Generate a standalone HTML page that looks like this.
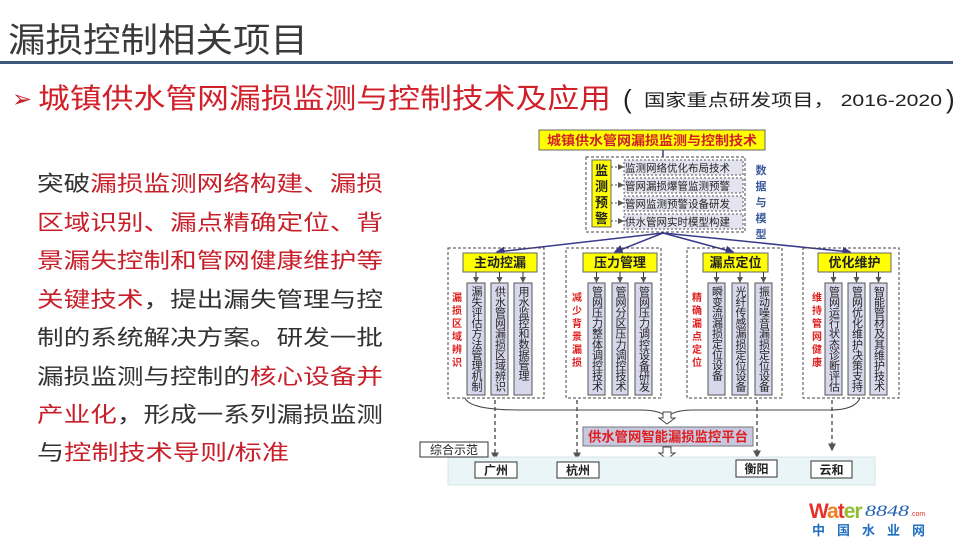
<!DOCTYPE html>
<html><head><meta charset="utf-8"><style>
html,body{margin:0;padding:0;background:#fff;}
svg{display:block;font-family:"Liberation Sans","Noto Sans CJK SC",sans-serif;}
</style></head><body>
<svg width="960" height="540" viewBox="0 0 960 540" xmlns="http://www.w3.org/2000/svg">
<defs>
<marker id="ar" markerWidth="6" markerHeight="6" refX="5" refY="3" orient="auto"><path d="M0,0L6,3L0,6z" fill="#3a3a8a"/></marker>
<marker id="ag" markerWidth="6" markerHeight="6" refX="5" refY="3" orient="auto"><path d="M0,0L6,3L0,6z" fill="#555"/></marker>
</defs>
<!-- title -->
<text x="8" y="52" font-size="34" fill="#3a3a3a" textLength="300" lengthAdjust="spacingAndGlyphs">漏损控制相关项目</text>
<rect x="0" y="61" width="953" height="3" fill="#3d5878"/>
<text x="12" y="107" font-size="24" fill="#c8202a">➢</text>
<text x="38" y="108" font-size="28" fill="#d0202a" textLength="573" lengthAdjust="spacingAndGlyphs">城镇供水管网漏损监测与控制技术及应用</text>
<text x="623" y="108" font-size="26" fill="#222">(</text>
<text x="644" y="106" font-size="17" fill="#222" textLength="298" lengthAdjust="spacingAndGlyphs">国家重点研发项目， 2016-2020</text>
<text x="946" y="108" font-size="26" fill="#222">)</text>
<!-- body text -->
<g font-size="21.6" lengthAdjust="spacingAndGlyphs">
<text x="37" y="191" fill="#333" textLength="346" lengthAdjust="spacingAndGlyphs">突破<tspan fill="#c8202a">漏损监测网络构建、漏损</tspan></text>
<text x="37" y="230" fill="#c8202a" textLength="346" lengthAdjust="spacingAndGlyphs">区域识别、漏点精确定位、背</text>
<text x="37" y="268" fill="#c8202a" textLength="346" lengthAdjust="spacingAndGlyphs">景漏失控制和管网健康维护等</text>
<text x="37" y="307" fill="#c8202a" textLength="346" lengthAdjust="spacingAndGlyphs">关键技术<tspan fill="#333">，提出漏失管理与控</tspan></text>
<text x="37" y="345" fill="#333" textLength="346" lengthAdjust="spacingAndGlyphs">制的系统解决方案。研发一批</text>
<text x="37" y="384" fill="#333" textLength="346" lengthAdjust="spacingAndGlyphs">漏损监测与控制的<tspan fill="#c8202a">核心设备并</tspan></text>
<text x="37" y="422" fill="#c8202a" textLength="346" lengthAdjust="spacingAndGlyphs">产业化<tspan fill="#333">，形成一系列漏损监测</tspan></text>
<text x="37" y="460" fill="#333" textLength="252" lengthAdjust="spacingAndGlyphs">与<tspan fill="#c8202a">控制技术导则/标准</tspan></text>
</g>
<!-- diagram top -->
<rect x="539" y="130" width="226" height="20" fill="#ffff00" stroke="#666" stroke-width="1"/>
<text x="652" y="145" font-size="13" fill="#d0202a" text-anchor="middle" font-weight="bold" textLength="210" lengthAdjust="spacingAndGlyphs">城镇供水管网漏损监测与控制技术</text>
<line x1="663" y1="150" x2="663" y2="157" stroke="#3a3a8a" stroke-width="1.5"/>
<rect x="586" y="157" width="159" height="75" fill="none" stroke="#444" stroke-dasharray="3,2"/>
<rect x="592" y="160" width="19" height="67" fill="#ffff00" stroke="#666"/>
<g font-size="13" font-weight="bold" fill="#222" text-anchor="middle">
<text x="601.5" y="175">监</text><text x="601.5" y="191">测</text><text x="601.5" y="207">预</text><text x="601.5" y="223">警</text>
</g>
<g font-size="10.5" fill="#222">
<rect x="624" y="160" width="119" height="15" fill="#e4e4f0" stroke="#555" stroke-dasharray="2,2"/><text x="625" y="171.5" textLength="105" lengthAdjust="spacingAndGlyphs">监测网络优化布局技术</text>
<rect x="624" y="178" width="119" height="15" fill="#e4e4f0" stroke="#555" stroke-dasharray="2,2"/><text x="625" y="189.5" textLength="105" lengthAdjust="spacingAndGlyphs">管网漏损爆管监测预警</text>
<rect x="624" y="196" width="119" height="15" fill="#e4e4f0" stroke="#555" stroke-dasharray="2,2"/><text x="625" y="207.5" textLength="105" lengthAdjust="spacingAndGlyphs">管网监测预警设备研发</text>
<rect x="624" y="214" width="119" height="15" fill="#e4e4f0" stroke="#555" stroke-dasharray="2,2"/><text x="625" y="225.5" textLength="105" lengthAdjust="spacingAndGlyphs">供水管网实时模型构建</text>
</g>
<g stroke="#555" stroke-dasharray="2,2" marker-end="url(#ag)">
<line x1="611" y1="167" x2="623" y2="167"/><line x1="611" y1="185" x2="623" y2="185"/><line x1="611" y1="203" x2="623" y2="203"/><line x1="611" y1="221" x2="623" y2="221"/>
</g>
<g font-size="11" font-weight="bold" fill="#3a5a9a" text-anchor="middle">
<text x="761" y="174">数</text><text x="761" y="190">据</text><text x="761" y="206">与</text><text x="761" y="222">模</text><text x="761" y="238">型</text>
</g>
<!-- fan arrows -->
<g stroke="#3a3a8a" stroke-width="1.5" fill="none" marker-end="url(#ar)">
<line x1="663" y1="233" x2="497" y2="252"/><line x1="663" y1="233" x2="615" y2="252"/><line x1="663" y1="233" x2="733" y2="252"/><line x1="663" y1="233" x2="850" y2="252"/>
</g>
<!-- groups -->
<g>
<g stroke="#444" stroke-dasharray="3,2" fill="none">
<rect x="448" y="248" width="96" height="150"/><rect x="566" y="248" width="95" height="150"/><rect x="687" y="248" width="95" height="150"/><rect x="803" y="248" width="96" height="150"/>
</g>
<g fill="#ffff00" stroke="#666">
<rect x="463" y="253" width="74" height="19"/><rect x="583" y="253" width="74" height="19"/><rect x="703" y="253" width="65" height="19"/><rect x="818" y="253" width="73" height="19"/>
</g>
<g font-size="13" font-weight="bold" fill="#222" text-anchor="middle">
<text x="500" y="267">主动控漏</text><text x="620" y="267">压力管理</text><text x="735.5" y="267">漏点定位</text><text x="854.5" y="267">优化维护</text>
</g>
<g fill="#d8d8ec" stroke="#555">
<rect x="467" y="283" width="18" height="112"/><rect x="491" y="283" width="17" height="112"/><rect x="514" y="283" width="18" height="112"/>
<rect x="588" y="283" width="17" height="112"/><rect x="612" y="283" width="16" height="112"/><rect x="635" y="283" width="17" height="112"/>
<rect x="708" y="283" width="17" height="112"/><rect x="732" y="283" width="16" height="112"/><rect x="755" y="283" width="17" height="112"/>
<rect x="825" y="283" width="17" height="112"/><rect x="848" y="283" width="17" height="112"/><rect x="870" y="283" width="17" height="112"/>
</g>
<g stroke="#333" marker-end="url(#ag)">
<line x1="476" y1="272" x2="476" y2="282"/><line x1="499.5" y1="272" x2="499.5" y2="282"/><line x1="523" y1="272" x2="523" y2="282"/>
<line x1="596.5" y1="272" x2="596.5" y2="282"/><line x1="620" y1="272" x2="620" y2="282"/><line x1="643.5" y1="272" x2="643.5" y2="282"/>
<line x1="716.5" y1="272" x2="716.5" y2="282"/><line x1="740" y1="272" x2="740" y2="282"/><line x1="763.5" y1="272" x2="763.5" y2="282"/>
<line x1="833.5" y1="272" x2="833.5" y2="282"/><line x1="856.5" y1="272" x2="856.5" y2="282"/><line x1="878.5" y1="272" x2="878.5" y2="282"/>
</g>
<g font-size="11" fill="#222" writing-mode="tb">
<text x="476" y="286" textLength="106" lengthAdjust="spacingAndGlyphs">漏失评估方法管理机制</text>
<text x="499.5" y="286" textLength="106" lengthAdjust="spacingAndGlyphs">供水管网漏损区域辨识</text>
<text x="523" y="286" textLength="95" lengthAdjust="spacingAndGlyphs">用水监控和数据管理</text>
<text x="596.5" y="286" textLength="106" lengthAdjust="spacingAndGlyphs">管网压力整体调控技术</text>
<text x="620" y="286" textLength="106" lengthAdjust="spacingAndGlyphs">管网分区压力调控技术</text>
<text x="643.5" y="286" textLength="106" lengthAdjust="spacingAndGlyphs">管网压力调控设备研发</text>
<text x="716.5" y="286" textLength="95" lengthAdjust="spacingAndGlyphs">瞬变流漏损定位设备</text>
<text x="740" y="286" textLength="106" lengthAdjust="spacingAndGlyphs">光纤传感漏损定位设备</text>
<text x="763.5" y="286" textLength="106" lengthAdjust="spacingAndGlyphs">振动噪音漏损定位设备</text>
<text x="833.5" y="286" textLength="106" lengthAdjust="spacingAndGlyphs">管网运行状态诊断评估</text>
<text x="856.5" y="286" textLength="106" lengthAdjust="spacingAndGlyphs">管网优化维护决策支持</text>
<text x="878.5" y="286" textLength="106" lengthAdjust="spacingAndGlyphs">智能管材及其维护技术</text>
</g>
<g font-size="10" font-weight="bold" fill="#e02020" writing-mode="tb" letter-spacing="3">
<text x="455" y="292">漏损区域辨识</text>
<text x="575" y="292">减少背景漏损</text>
<text x="695" y="292">精确漏点定位</text>
<text x="815" y="292">维持管网健康</text>
</g>
</g>
<!-- brace -->
<path d="M465,398 Q470,410 520,410 L640,410 Q662,410 667,418 Q672,410 694,410 L830,410 Q855,410 860,398" fill="none" stroke="#444" stroke-width="1"/>
<path d="M663,412 h8 v6 h4 l-8,6 l-8,-6 h4z" fill="#fff" stroke="#444"/>
<path d="M663,447 h8 v6 h4 l-8,6 l-8,-6 h4z" fill="#fff" stroke="#444"/>
<rect x="583" y="427" width="170" height="19" fill="#c8c8e0" stroke="#777"/>
<text x="668" y="441.5" font-size="13.5" font-weight="bold" fill="#e02020" text-anchor="middle" textLength="160" lengthAdjust="spacingAndGlyphs">供水管网智能漏损监控平台</text>
<!-- dashed drops -->
<g stroke="#444" stroke-width="1.3" stroke-dasharray="4,3" marker-end="url(#ag)">
<line x1="495" y1="400" x2="495" y2="459"/><line x1="577" y1="400" x2="577" y2="459"/><line x1="757" y1="400" x2="757" y2="457"/><line x1="832" y1="400" x2="832" y2="450"/>
</g>
<rect x="448" y="457" width="427" height="28" fill="#eaf5f8" stroke="#d8e4e8"/>
<rect x="420" y="442" width="68" height="15" fill="#fff" stroke="#333"/>
<text x="454" y="454" font-size="12" fill="#222" text-anchor="middle">综合示范</text>
<g fill="#fff" stroke="#333"><rect x="475" y="462" width="42" height="16"/><rect x="557" y="462" width="42" height="16"/><rect x="736" y="460" width="41" height="17"/><rect x="811" y="461" width="41" height="17"/></g>
<g font-size="12" font-weight="bold" fill="#222" text-anchor="middle">
<text x="496" y="474.5">广州</text><text x="578" y="474.5">杭州</text><text x="756.5" y="473">衡阳</text><text x="831.5" y="474">云和</text>
</g>
<!-- logo -->
<text x="809" y="518" font-size="21" font-weight="bold" fill="#e8302a" letter-spacing="-1">W<tspan fill="#f08020">a</tspan><tspan fill="#e8302a">t</tspan><tspan fill="#90c030">er</tspan></text>
<text x="865" y="516" font-size="16" font-style="italic" fill="#2060b0" font-family="Liberation Serif,serif" textLength="44" lengthAdjust="spacingAndGlyphs">8848</text>
<text x="910" y="516" font-size="7" fill="#e8302a">.com</text>
<text x="812" y="535" font-size="13" font-weight="bold" fill="#2070c0" textLength="113" lengthAdjust="spacing">中 国 水 业 网</text>
</svg>
</body></html>
